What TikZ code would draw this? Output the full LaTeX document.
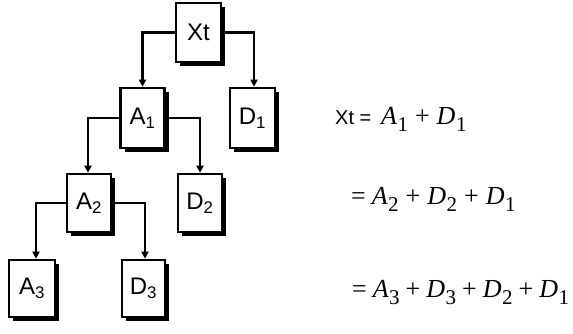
\documentclass[tikz,border=0pt]{standalone}
\usepackage{fontspec}
\setmainfont{Liberation Sans}
\newfontfamily\tms{Liberation Serif}
\usetikzlibrary{arrows.meta,shadows}
\newcommand\vv[2]{{\tms\itshape #1}\kern0.5pt\raisebox{-7pt}{\fontsize{21}{21}\selectfont\tms #2}}
\newcommand\pl{\hspace{7pt}{\tms +}\hspace{7pt}}
\newcommand\plt{\hspace{6pt}{\tms +}\hspace{6pt}}
\begin{document}
\begin{tikzpicture}[x=1pt,y=-1pt,
  bx/.style={draw,line width=2.6pt,fill=white,minimum width=44pt,minimum height=58pt,inner sep=0pt,
    font=\fontsize{24}{24}\selectfont,
    drop shadow={shadow xshift=4pt,shadow yshift=-4pt,fill=black,opacity=1}},
  cn/.style={line width=2.4pt,-{Triangle[length=7pt,width=7pt]}},
  eq/.style={anchor=base west,inner sep=0pt,font=\fontsize{26}{26}\selectfont}]
\useasboundingbox (0,0) rectangle (573,333);
\node[bx,minimum width=45pt,minimum height=59pt] (Xt) at (198.5,32.5) {Xt};
\node[bx,minimum height=60pt] (A1) at (142.5,118) {A\textsubscript{1}};
\node[bx,minimum width=45pt,minimum height=60pt] (D1) at (252.5,118) {D\textsubscript{1}};
\node[bx] (A2) at (89,203) {A\textsubscript{2}};
\node[bx] (D2) at (200,203) {D\textsubscript{2}};
\node[bx,minimum width=46pt,minimum height=57pt] (A3) at (32,288.5) {A\textsubscript{3}};
\node[bx,minimum width=43pt,minimum height=57pt] (D3) at (143.5,288.5) {D\textsubscript{3}};
\draw[cn] (Xt.west) -| (A1.north);
\draw[cn] (Xt.east) -| ([xshift=1.5pt]D1.north);
\draw[cn] (A1.west) -| ([xshift=-1pt]A2.north);
\draw[cn] (A1.east) -| (D2.north);
\draw[cn] (A2.west) -| ([xshift=4pt]A3.north);
\draw[cn] (A2.east) -| ([xshift=1.5pt]D3.north);
\node[anchor=base west,inner sep=0pt,font=\fontsize{20}{20}\selectfont] (l1) at (335,124) {Xt =};
\node[eq] (r1) at (381,124) {\vv{A}{1}\pl\vv{D}{1}};
\node[eq] (r2) at (351,204) {{\tms =}\hspace{6pt}\vv{A}{2}\pl\vv{D}{2}\pl\vv{D}{1}};
\node[eq] (r3) at (352,297) {{\tms =}\hspace{6pt}\vv{A}{3}\plt\vv{D}{3}\plt\vv{D}{2}\plt\vv{D}{1}};
\end{tikzpicture}
\end{document}
